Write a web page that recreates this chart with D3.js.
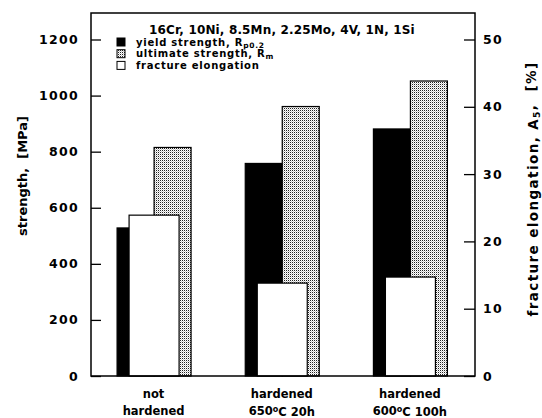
<!DOCTYPE html>
<html>
<head>
<meta charset="utf-8">
<script src="https://cdn.jsdelivr.net/npm/d3@7/dist/d3.min.js"></script>
<style>
  html, body { margin: 0; padding: 0; background: #fff; }
  svg { display: block; }
  text { font-family: "DejaVu Sans", Verdana, sans-serif; font-weight: bold; fill: #000; }
</style>
</head>
<body>
<svg id="chart" width="542" height="418"></svg>
<script>
// Heat-treatment states of the steel
const categories = ["not hardened", "hardened 650°C 20h", "hardened 600°C 100h"];
const categoryLines = [["not", "hardened"], ["hardened", "650|C 20h"], ["hardened", "600|C 100h"]];

// Mechanical properties per state
const yieldStrength = [528, 758, 881];       // R_p0.2 [MPa]
const ultimateStrength = [815, 961, 1052];   // R_m [MPa]
const elongation = [23.9, 13.8, 14.7];       // A_5 [%]

// Axis ticks
const strengthTicks = [0, 200, 400, 600, 800, 1000, 1200];
const elongationTicks = [0, 10, 20, 30, 40, 50];

const composition = "16Cr, 10Ni, 8.5Mn, 2.25Mo, 4V, 1N, 1Si";

const svg = d3.select("#chart");
const frame = { left: 91, right: 475, top: 13, bottom: 376 };

const yLeft = d3.scaleLinear().domain([0, 1200]).range([376, 39.5]);
const yRight = d3.scaleLinear().domain([0, 50]).range([376, 39.5]);
const x = d3.scaleBand().domain(categories).range([89.5, 474]).padding(0);
const xSub = d3.scaleBand().domain(["yield", "ultimate"]).range([-36.5, 37.5]);

// Dotted fill for the ultimate strength bars
const defs = svg.append("defs");
const pat = defs.append("pattern").attr("id", "stipple")
  .attr("patternUnits", "userSpaceOnUse").attr("width", 2).attr("height", 2);
pat.append("rect").attr("width", 2).attr("height", 2).attr("fill", "#fff");
pat.append("rect").attr("width", 1).attr("height", 1).attr("fill", "#222");
pat.append("rect").attr("x", 1).attr("y", 1).attr("width", 1).attr("height", 1).attr("fill", "#c8c8c8");

const center = c => x(c) + x.bandwidth() / 2;

// Bars: yield (black), ultimate (stippled), elongation (white, on top)
const g = svg.append("g");
g.selectAll("rect.yield").data(categories).join("rect").attr("class", "yield")
  .attr("x", c => center(c) + xSub("yield"))
  .attr("width", xSub.bandwidth())
  .attr("y", (c, i) => yLeft(yieldStrength[i]))
  .attr("height", (c, i) => yLeft(0) - yLeft(yieldStrength[i]))
  .attr("fill", "#000").attr("stroke", "#000").attr("stroke-width", 1.2);

g.selectAll("rect.ult").data(categories).join("rect").attr("class", "ult")
  .attr("x", c => center(c) + xSub("ultimate"))
  .attr("width", xSub.bandwidth())
  .attr("y", (c, i) => yLeft(ultimateStrength[i]))
  .attr("height", (c, i) => yLeft(0) - yLeft(ultimateStrength[i]))
  .attr("fill", "url(#stipple)").attr("stroke", "#000").attr("stroke-width", 1.2);

g.selectAll("rect.elong").data(categories).join("rect").attr("class", "elong")
  .attr("x", c => center(c) - 24.5)
  .attr("width", 50)
  .attr("y", (c, i) => yRight(elongation[i]))
  .attr("height", (c, i) => yRight(0) - yRight(elongation[i]))
  .attr("fill", "#fff").attr("stroke", "#000").attr("stroke-width", 1.2);

// Frame
svg.append("rect")
  .attr("x", frame.left).attr("y", frame.top)
  .attr("width", frame.right - frame.left).attr("height", frame.bottom - frame.top)
  .attr("fill", "none").attr("stroke", "#000").attr("stroke-width", 1.5);

// Left axis (inward ticks)
const leftAxis = d3.axisRight(yLeft).tickValues(strengthTicks).tickSize(10).tickFormat("");
const la = svg.append("g").attr("transform", `translate(${frame.left},0)`).call(leftAxis);
la.select(".domain").remove();
la.selectAll("line").attr("stroke-width", 1.3);
svg.append("g").selectAll("text").data(strengthTicks).join("text")
  .attr("x", 79).attr("y", d => yLeft(d)).attr("dy", "0.36em")
  .attr("text-anchor", "end")
  .style("font-size", "12.5px").style("letter-spacing", "1.3px")
  .text(d => d);

// Right axis (inward ticks)
const rightAxis = d3.axisLeft(yRight).tickValues(elongationTicks).tickSize(11).tickFormat("");
const ra = svg.append("g").attr("transform", `translate(${frame.right},0)`).call(rightAxis);
ra.select(".domain").remove();
ra.selectAll("line").attr("stroke-width", 1.3);
svg.append("g").selectAll("text").data(elongationTicks).join("text")
  .attr("x", 483).attr("y", d => yRight(d)).attr("dy", "0.36em")
  .attr("text-anchor", "start")
  .style("font-size", "12.5px").style("letter-spacing", "1.3px")
  .text(d => d);

// Category labels, two lines each, "|" marks a raised degree sign
const xl = svg.append("g");
categories.forEach((c, i) => {
  categoryLines[i].forEach((line, j) => {
    const t = xl.append("text")
      .attr("x", center(c)).attr("y", 397.5 + j * 17)
      .attr("text-anchor", "middle").style("font-size", "11.5px");
    const parts = line.split("|");
    if (parts.length === 1) { t.text(line); return; }
    t.append("tspan").text(parts[0]);
    t.append("tspan").attr("dy", "-0.35em").style("font-size", "8px").text("o");
    t.append("tspan").attr("dy", "0.35em").text(parts[1]);
  });
});

// Axis titles
svg.append("text")
  .attr("transform", "translate(27,176) rotate(-90)")
  .attr("text-anchor", "middle").style("font-size", "13px")
  .attr("xml:space", "preserve")
  .text("strength,  [MPa]");

const rt = svg.append("text")
  .attr("transform", "translate(537.5,189) rotate(-90)")
  .attr("text-anchor", "middle").style("font-size", "13.5px")
  .style("letter-spacing", "1.4px")
  .attr("xml:space", "preserve");
rt.append("tspan").text("fracture elongation, A");
rt.append("tspan").attr("dy", "0.25em").style("font-size", "9px").text("5");
rt.append("tspan").attr("dy", "-0.25em").text(",  [%]");

// Composition line
svg.append("text")
  .attr("x", 282).attr("y", 33.5).attr("text-anchor", "middle")
  .style("font-size", "12px").style("letter-spacing", "0.15px")
  .text(composition);

// Legend
const legendItems = [
  { fill: "#000", label: "yield strength, R", sub: "p0.2" },
  { fill: "url(#stipple)", label: "ultimate strength, R", sub: "m" },
  { fill: "#fff", label: "fracture elongation", sub: "" }
];
const lg = svg.append("g");
legendItems.forEach((d, i) => {
  const yb = 45.5 + i * 11.7;
  lg.append("rect").attr("x", 117).attr("y", yb - 7.5).attr("width", 8).attr("height", 8)
    .attr("fill", d.fill).attr("stroke", "#000").attr("stroke-width", 1);
  const t = lg.append("text").attr("x", 136).attr("y", yb)
    .style("font-size", "10px").style("letter-spacing", "0.75px");
  t.append("tspan").text(d.label);
  if (d.sub) t.append("tspan").attr("dy", "2px").style("font-size", "7.5px").text(d.sub);
});
</script>
</body>
</html>
